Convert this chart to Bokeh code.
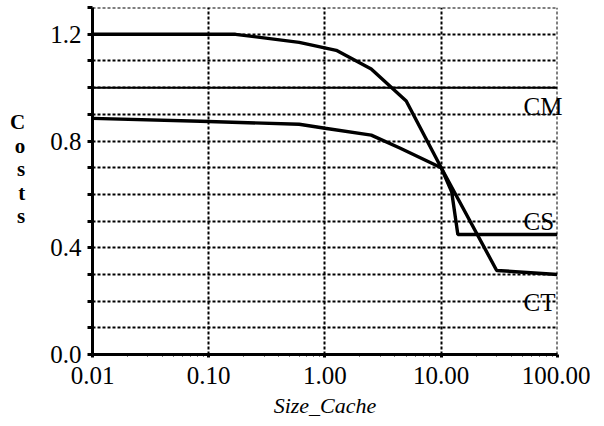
from bokeh.plotting import figure
from bokeh.models import FixedTicker, CustomJSTickFormatter, LinearAxis
from bokeh.embed import file_html
from bokeh.resources import INLINE

# ---- data ----
cm_x = [0.01, 100.0]
cm_y = [1.0, 1.0]

ct_x = [0.01, 0.17, 0.6, 1.25, 2.5, 5.0, 10.0, 30.0, 100.0]
ct_y = [1.20, 1.20, 1.17, 1.14, 1.07, 0.95, 0.70, 0.315, 0.30]

cs_x = [0.01, 0.085, 0.6, 1.0, 2.5, 4.4, 10.0, 12.3, 13.9, 100.0]
cs_y = [0.885, 0.874, 0.863, 0.848, 0.822, 0.774, 0.70, 0.61, 0.45, 0.45]

x_ticks = [0.01, 0.1, 1.0, 10.0, 100.0]
x_minor = [m * d for d in [0.01, 0.1, 1.0, 10.0] for m in range(2, 10)]
y_ticks = [0.0, 0.4, 0.8, 1.2]
y_minor = [0.1, 0.2, 0.3, 0.5, 0.6, 0.7, 0.9, 1.0, 1.1, 1.3]

series_labels = ["CM", "CS", "CT"]
series_label_y = [0.93, 0.50, 0.196]

FONT = "Liberation Serif"

p = figure(width=590, height=420, x_axis_type="log",
           x_range=(0.01, 100.08), y_range=(0, 1.3005),
           output_backend="svg", toolbar_location=None,
           min_border_left=92, min_border_right=33,
           min_border_top=7, min_border_bottom=63)
p.outline_line_color = None
p.background_fill_color = "white"

# axes
p.xaxis.ticker = FixedTicker(ticks=x_ticks, minor_ticks=x_minor)
p.yaxis.ticker = FixedTicker(ticks=y_ticks, minor_ticks=y_minor)
p.xaxis.formatter = CustomJSTickFormatter(code="return tick.toFixed(2);")
p.yaxis.formatter = CustomJSTickFormatter(code="return tick.toFixed(1);")

for ax in (p.xaxis, p.yaxis):
    ax.axis_line_width = 3
    ax.axis_line_color = "black"
    ax.major_tick_line_color = "black"
    ax.minor_tick_line_color = "black"
    ax.major_label_text_font = FONT
    ax.major_label_text_font_size = "25px"
    ax.major_label_text_color = "black"

p.yaxis.major_tick_line_width = 3
p.yaxis.minor_tick_line_width = 3
p.yaxis.major_tick_out = 5
p.yaxis.minor_tick_out = 5
p.yaxis.major_tick_in = 0
p.yaxis.minor_tick_in = 0
p.yaxis.major_label_standoff = 6
p.yaxis.axis_label = "C\no\ns\nt\ns\n "
p.yaxis.axis_label_text_font = FONT
p.yaxis.axis_label_text_font_style = "bold"
p.yaxis.axis_label_text_font_size = "21px"
p.yaxis.axis_label_text_line_height = 0.98
p.yaxis.axis_label_text_color = "black"
p.yaxis.axis_label_standoff = 22
try:
    p.yaxis.axis_label_orientation = "horizontal"
except Exception:
    pass

p.xaxis.major_tick_line_width = 3
p.xaxis.major_tick_out = 3
p.xaxis.major_tick_in = 0
p.xaxis.minor_tick_line_width = 1
p.xaxis.minor_tick_out = 2
p.xaxis.minor_tick_in = 0
p.xaxis.major_label_standoff = 9
p.xaxis.axis_label = "Size_Cache"
p.xaxis.axis_label_text_font = FONT
p.xaxis.axis_label_text_font_style = "italic"
p.xaxis.axis_label_text_font_size = "22px"
p.xaxis.axis_label_standoff = 6
p.xaxis.axis_label_text_color = "black"

# right-hand series labels, drawn as an unclipped label-only axis
lab_axis = LinearAxis(
    ticker=FixedTicker(ticks=series_label_y, minor_ticks=[]),
    formatter=CustomJSTickFormatter(args=dict(names=series_labels),
                                    code="return names[index];"),
    axis_line_color=None, major_tick_line_color=None, minor_tick_line_color=None,
    major_tick_out=0, major_tick_in=0,
    major_label_standoff=-34,
    major_label_text_font=FONT, major_label_text_font_size="25px",
    major_label_text_color="black")
p.add_layout(lab_axis, "right")

# grids
for g in (p.xgrid, p.ygrid):
    g.grid_line_color = "black"
    g.grid_line_dash = "3 2"
    g.grid_line_width = 2
p.ygrid.minor_grid_line_color = "black"
p.ygrid.minor_grid_line_dash = "3 2"
p.ygrid.minor_grid_line_width = 2

# curves
p.line(cm_x, cm_y, line_color="black", line_width=2)
p.line(ct_x, ct_y, line_color="black", line_width=3.4)
p.line(cs_x, cs_y, line_color="black", line_width=3.4)

open("out.html", "w").write(file_html(p, INLINE))
